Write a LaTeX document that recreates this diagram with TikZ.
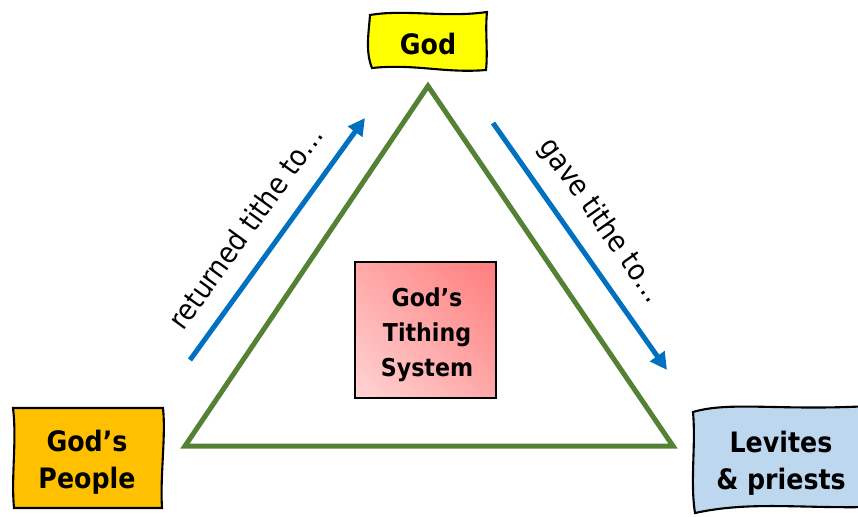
\documentclass[tikz,border=0pt]{standalone}
\usepackage{fontspec}
\usepackage{tikz}
\usetikzlibrary{arrows.meta, positioning, calc, shadings}
\newfontfamily\tahomalike{DejaVu Sans Condensed}
\definecolor{trigreen}{RGB}{84,130,53}
\definecolor{arrowblue}{RGB}{0,112,192}
\definecolor{godyellow}{RGB}{255,255,0}
\definecolor{peopleorange}{RGB}{255,192,0}
\definecolor{levblue}{RGB}{189,215,238}
\definecolor{sysdark}{RGB}{255,125,125}
\definecolor{sysmid}{RGB}{255,168,168}
\definecolor{syslight}{RGB}{255,212,212}
\tikzset{
  mainlabel/.style={align=center, inner sep=0pt,
    font=\tahomalike\bfseries\fontsize{16}{21}\selectfont},
  sysbox/.style={rectangle, draw=black, line width=1pt,
    minimum width=2.82cm, minimum height=2.72cm, inner sep=0pt,
    shade, lower left=syslight, upper right=sysdark,
    upper left=sysmid, lower right=sysmid},
  syslabel/.style={align=center, inner sep=0pt,
    font=\tahomalike\bfseries\fontsize{14}{20}\selectfont},
  flowlabel/.style={inner sep=0pt, text=black,
    font=\tahomalike\fontsize{16.5}{19}\selectfont},
  flowarrow/.style={-{Triangle[length=0.34cm, width=0.34cm]},
    line width=0.1cm, color=arrowblue},
  flagline/.style={draw=black, line width=1.2pt}
}

\begin{document}
\begin{tikzpicture}
  \useasboundingbox (0,0) rectangle (17.16,10.32);

  % Triangle
  \coordinate (triTop) at (8.56,8.60);
  \coordinate (triL) at (3.70,1.40);
  \coordinate (triR) at (13.46,1.40);
  \draw[trigreen, line width=0.1cm] (triTop) -- (triL) -- (triR) -- cycle;

  % God flag
  \draw[flagline, fill=godyellow]
    (7.40,10.02) .. controls (8.1,10.14) and (8.9,9.96) .. (9.74,10.08)
    .. controls (9.70,9.7) and (9.76,9.3) .. (9.72,8.92)
    .. controls (8.9,8.85) and (8.3,9.05) .. (7.44,8.96)
    .. controls (7.30,9.3) and (7.38,9.7) .. cycle;
  \node[mainlabel] (god) at (8.56,9.44) {God};

  % God's people
  \draw[flagline, fill=peopleorange]
    (0.26,2.16) -- (3.26,2.16)
    .. controls (3.32,1.6) and (3.2,0.8) .. (3.24,0.16) -- (0.28,0.16)
    .. controls (0.22,0.8) and (0.34,1.5) .. cycle;
  \node[mainlabel] (people) at (1.74,1.08) {God’s\\People};

  % Levites flag (runs off the right edge)
  \draw[flagline, fill=levblue]
    (13.86,2.08) .. controls (14.6,2.3) and (15.6,2.1) .. (17.4,2.2)
    -- (17.4,0.18)
    .. controls (16.0,0.15) and (15.0,0.3) .. (13.90,0.06)
    .. controls (13.8,0.7) and (13.92,1.4) .. cycle;
  \node[mainlabel] (levites) at (15.62,1.06) {Levites\\\& priests};

  % Centre box
  \node[sysbox] (system) at (8.51,3.72) {};
  \node[syslabel] (systext) at ($(system)+(0.03,-0.1)$) {God’s\\Tithing\\System};

  % Flow arrows
  \coordinate (retS) at (3.80,3.12);
  \coordinate (retE) at (7.30,7.96);
  \draw[flowarrow] (retS) -- (retE)
    node[flowlabel, pos=0.47, sloped, above=0.38cm] {returned tithe to…};
  \coordinate (gaveS) at (9.86,7.86);
  \coordinate (gaveE) at (13.34,2.92);
  \draw[flowarrow] (gaveS) -- (gaveE)
    node[flowlabel, pos=0.47, sloped, above=0.3cm] {gave tithe to…};
\end{tikzpicture}
\end{document}
